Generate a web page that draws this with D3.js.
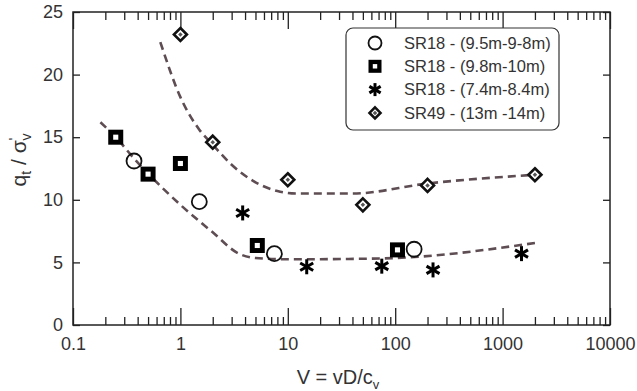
<!DOCTYPE html>
<html>
<head>
    <meta charset="utf-8">
    <title>qt/sv vs V</title>
    <script src="https://cdnjs.cloudflare.com/ajax/libs/d3/7.8.5/d3.min.js"></script>
    <style>
        body { margin: 0; background: #fff; }
        svg text { font-family: "Liberation Sans", Arial, sans-serif; fill: #333; }
        .axis path.domain { display: none; }
        .axis line { stroke: #222; stroke-width: 1.3; }
    </style>
</head>
<body>
<script type="text/javascript">
    var width = 637, height = 391;

    // data
    var circles  = [[0.37, 13.1], [1.5, 9.85], [7.5, 5.7], [150, 6.05]];        // SR18 - (9.5m-9-8m)
    var squares  = [[0.25, 15.0], [0.5, 12.05], [1.0, 12.9], [5.2, 6.35], [105, 6.0]]; // SR18 - (9.8m-10m)
    var stars    = [[3.8, 8.95], [15, 4.65], [75, 4.7], [225, 4.4], [1500, 5.7]];   // SR18 - (7.4m-8.4m)
    var diamonds = [[1.0, 23.2], [2.0, 14.6], [10, 11.6], [50, 9.6], [200, 11.15], [2000, 12.0]]; // SR49

    var lowerFit = [[0.18, 16.2], [0.25, 15.0], [0.37, 13.3], [0.5, 12.1], [1, 9.6], [2, 7.4],
                    [3.5, 5.7], [5, 5.35], [10, 5.25], [60, 5.3], [100, 5.35], [2000, 6.55]];
    var upperFit = [[0.65, 22.6], [1.0, 18.2], [1.5, 15.6], [2, 14.4], [3, 12.8], [5, 11.4],
                    [8, 10.7], [12, 10.5], [40, 10.5], [200, 11.3], [2000, 12.0]];

    var xMajor = [0.1, 1, 10, 100, 1000, 10000];
    var yTicks = [0, 5, 10, 15, 20, 25];
    var legendLabels = ["SR18 - (9.5m-9-8m)", "SR18 - (9.8m-10m)", "SR18 - (7.4m-8.4m)", "SR49 - (13m -14m)"];

    var plotL = 73, plotR = 610, plotT = 12, plotB = 325;

    var svg = d3.select("body").append("svg")
        .attr("width", width)
        .attr("height", height);

    var x = d3.scaleLog().domain([0.1, 10000]).range([plotL, plotR]);
    var y = d3.scaleLinear().domain([0, 25]).range([plotB, plotT]);

    var xMinor = x.ticks().filter(function (d) {
        return xMajor.every(function (m) { return Math.abs(m - d) / m > 1e-6; });
    });

    // axes, ticks pointing inward
    svg.append("g").attr("class", "axis")
        .attr("transform", "translate(0," + plotB + ")")
        .call(d3.axisBottom(x).tickValues(xMajor).tickSize(-17).tickPadding(12)
            .tickFormat(function (d) { return d3.format("")(d); }))
        .selectAll("text").style("font-size", "18px");
    svg.append("g").attr("class", "axis")
        .attr("transform", "translate(0," + plotB + ")")
        .call(d3.axisBottom(x).tickValues(xMinor).tickSize(-8).tickFormat(""));
    svg.append("g").attr("class", "axis")
        .attr("transform", "translate(0," + plotT + ")")
        .call(d3.axisTop(x).tickValues(xMajor).tickSize(-17).tickFormat(""));
    svg.append("g").attr("class", "axis")
        .attr("transform", "translate(0," + plotT + ")")
        .call(d3.axisTop(x).tickValues(xMinor).tickSize(-8).tickFormat(""));
    svg.append("g").attr("class", "axis")
        .attr("transform", "translate(" + plotL + ",0)")
        .call(d3.axisLeft(y).tickValues(yTicks).tickSize(-7).tickPadding(10))
        .selectAll("text").style("font-size", "18px");
    svg.append("g").attr("class", "axis")
        .attr("transform", "translate(" + plotR + ",0)")
        .call(d3.axisRight(y).tickValues(yTicks).tickSize(-7).tickFormat(""));

    svg.append("rect")
        .attr("x", plotL).attr("y", plotT)
        .attr("width", plotR - plotL).attr("height", plotB - plotT)
        .attr("fill", "none").attr("stroke", "#222").attr("stroke-width", 1.5);

    // axis titles
    svg.append("text")
        .attr("x", 338).attr("y", 384)
        .attr("text-anchor", "middle")
        .style("font-size", "20px")
        .call(function (t) {
            t.append("tspan").text("V = vD/c");
            t.append("tspan").attr("dy", 5).style("font-size", "13px").text("v");
        });

    var yl = svg.append("text")
        .attr("transform", "translate(26,160) rotate(-90)")
        .attr("text-anchor", "middle")
        .style("font-size", "21px");
    yl.append("tspan").text("q");
    yl.append("tspan").attr("dy", 5).style("font-size", "14px").text("t");
    yl.append("tspan").attr("dy", -5).text(" / σ");
    yl.append("tspan").attr("dy", -7).style("font-size", "15px").text("'");
    yl.append("tspan").attr("dx", -3).attr("dy", 12).style("font-size", "14px").text("v");

    // dashed fits
    var line = d3.line()
        .x(function (d) { return x(d[0]); })
        .y(function (d) { return y(d[1]); })
        .curve(d3.curveMonotoneX);

    [lowerFit, upperFit].forEach(function (fit) {
        svg.append("path")
            .attr("d", line(fit))
            .attr("fill", "none")
            .attr("stroke", "#5e4d52")
            .attr("stroke-width", 2.6)
            .attr("stroke-dasharray", "8,5");
    });

    // marker drawing helpers
    function drawCircle(g, s) {
        g.append("circle").attr("r", s * 0.5)
            .attr("fill", "none").attr("stroke", "#111").attr("stroke-width", 1.8);
    }
    function drawSquare(g, s) {
        g.append("rect").attr("x", -s / 2).attr("y", -s / 2).attr("width", s).attr("height", s)
            .attr("fill", "#000");
        g.append("rect").attr("x", -s * 0.17).attr("y", -s * 0.17).attr("width", s * 0.34).attr("height", s * 0.34)
            .attr("fill", "#fff");
    }
    function drawStar(g, s) {
        [90, 30, 150].forEach(function (a) {
            var r = s / 2, rad = a * Math.PI / 180;
            g.append("line")
                .attr("x1", -r * Math.cos(rad)).attr("y1", -r * Math.sin(rad))
                .attr("x2", r * Math.cos(rad)).attr("y2", r * Math.sin(rad))
                .attr("stroke", "#000").attr("stroke-width", 3);
        });
    }
    function drawDiamond(g, s) {
        var r = s / 2 - 1;
        g.append("path").attr("d", "M0," + (-r) + "L" + r + ",0L0," + r + "L" + (-r) + ",0Z")
            .attr("fill", "#fff").attr("stroke", "#111").attr("stroke-width", 2.6);
        g.append("rect").attr("x", -1.6).attr("y", -1.6).attr("width", 3.2).attr("height", 3.2)
            .attr("transform", "rotate(45)").attr("fill", "#555");
    }

    var series = [
        { data: circles, draw: drawCircle, size: 15 },
        { data: squares, draw: drawSquare, size: 15 },
        { data: stars, draw: drawStar, size: 15 },
        { data: diamonds, draw: drawDiamond, size: 15 }
    ];

    series.forEach(function (s) {
        svg.append("g").selectAll("g")
            .data(s.data)
            .enter().append("g")
            .attr("transform", function (d) { return "translate(" + x(d[0]) + "," + y(d[1]) + ")"; })
            .each(function () { s.draw(d3.select(this), s.size); });
    });

    // legend
    var legend = svg.append("g");
    legend.append("rect")
        .attr("x", 346).attr("y", 28).attr("width", 213).attr("height", 102)
        .attr("rx", 7).attr("fill", "#fff").attr("stroke", "#333").attr("stroke-width", 1.2);

    series.forEach(function (s, i) {
        var gy = 43 + i * 23.3;
        var g = legend.append("g").attr("transform", "translate(375," + gy + ")");
        s.draw(g, 13);
        legend.append("text")
            .attr("x", 404).attr("y", gy)
            .attr("dy", "0.35em")
            .style("font-size", "16.5px")
            .text(legendLabels[i]);
    });
</script>
</body>
</html>
